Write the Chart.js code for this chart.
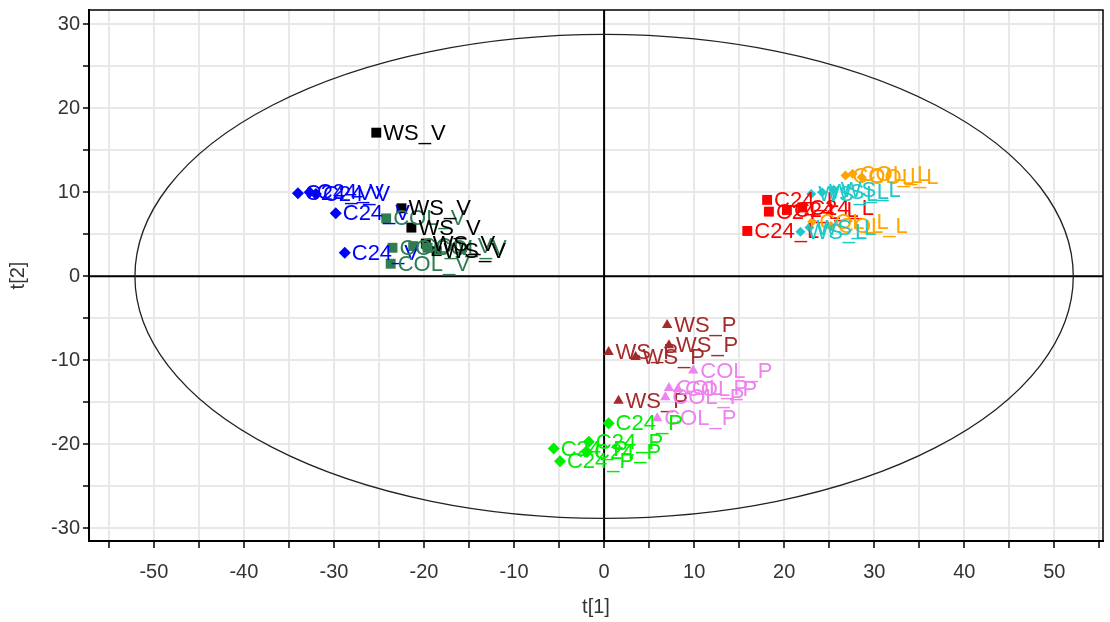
<!DOCTYPE html>
<html>
<head>
<meta charset="utf-8">
<script src="https://cdn.jsdelivr.net/npm/chart.js@4"></script>
<style>
    html, body { margin: 0; padding: 0; background: #fff; }
    #wrap { width: 1110px; height: 622px; }
</style>
</head>
<body>
<div id="wrap"><canvas id="scores" width="1110" height="622"></canvas></div>
<script>
// Score values t[1], t[2]
const c24vX = [-34.0, -32.7, -32.0, -29.8, -28.8];
const c24vY = [9.9, 10.0, 9.8, 7.5, 2.8];
const wsvX = [-25.3, -22.5, -21.4, -19.8, -18.6];
const wsvY = [17.1, 8.1, 5.8, 3.9, 3.0];
const colvX = [-24.2, -23.5, -23.7, -21.2, -19.6];
const colvY = [6.9, 3.4, 1.5, 3.6, 3.4];

const c24lX = [18.1, 18.3, 20.3, 15.9, 22.0];
const c24lY = [9.1, 7.7, 7.9, 5.4, 8.2];
const wslX = [23.0, 24.2, 25.5, 21.8, 22.8];
const wslY = [9.8, 10.0, 10.3, 5.3, 5.8];
const collX = [26.8, 27.6, 28.6, 23.1, 25.2];
const collY = [12.0, 12.2, 11.8, 6.5, 6.0];

const wspX = [7.0, 0.5, 3.5, 7.2, 1.6];
const wspY = [-5.8, -9.0, -9.6, -8.2, -14.8];
const colpX = [9.9, 7.2, 6.8, 5.9, 8.2];
const colpY = [-11.2, -13.3, -14.4, -16.9, -13.4];
const c24pX = [0.5, -5.6, -4.9, -1.7, -1.9];
const c24pY = [-17.5, -20.5, -22.0, -19.7, -20.9];

// Hotelling ellipse half-axes (t[1], t[2])
const ellipseRadii = [52.1, 28.8];

const xRange = [-57.2, 55.4];
const yRange = [-31.5, 31.7];

function pts(xs, ys) {
    return xs.map((x, i) => ({ x: x, y: ys[i] }));
}

function group(label, xs, ys, color, style, radius) {
    return {
        label: label,
        data: pts(xs, ys),
        backgroundColor: color,
        borderColor: color,
        borderWidth: 0,
        pointStyle: style,
        pointRadius: radius,
        pointHoverRadius: radius
    };
}

const datasets = [
    group('C24_V', c24vX, c24vY, '#0000ff', 'rectRot', 6),
    group('COL_V', colvX, colvY, '#2e7d50', 'rect', 7),
    group('WS_V', wsvX, wsvY, '#000000', 'rect', 7),
    group('C24_L', c24lX, c24lY, '#ff0000', 'rect', 7),
    group('COL_L', collX, collY, '#ffa500', 'rectRot', 5),
    group('WS_L', wslX, wslY, '#1ec8c8', 'rectRot', 5),
    group('WS_P', wspX, wspY, '#a52a2a', 'triangle', 6),
    group('COL_P', colpX, colpY, '#ee82ee', 'triangle', 6),
    group('C24_P', c24pX, c24pY, '#00ee00', 'rectRot', 6)
];

// Ellipse, zero lines and frame drawn behind the points
const backdrop = {
    id: 'backdrop',
    beforeDatasetsDraw(chart) {
        const ctx = chart.ctx;
        const xs = chart.scales.x, ys = chart.scales.y;
        const area = chart.chartArea;
        const x0 = xs.getPixelForValue(0), y0 = ys.getPixelForValue(0);
        ctx.save();
        ctx.strokeStyle = '#000';
        ctx.lineWidth = 2;
        ctx.beginPath();
        ctx.moveTo(x0, area.top);
        ctx.lineTo(x0, area.bottom);
        ctx.moveTo(area.left, y0);
        ctx.lineTo(area.right, y0);
        ctx.stroke();

        ctx.lineWidth = 1.3;
        ctx.strokeStyle = '#222';
        const rx = xs.getPixelForValue(ellipseRadii[0]) - x0;
        const ry = y0 - ys.getPixelForValue(ellipseRadii[1]);
        ctx.beginPath();
        ctx.ellipse(x0, y0, rx, ry, 0, 0, Math.PI * 2);
        ctx.stroke();

        ctx.lineWidth = 1.5;
        ctx.strokeStyle = '#000';
        ctx.beginPath();
        ctx.moveTo(area.left, area.top);
        ctx.lineTo(area.right, area.top);
        ctx.lineTo(area.right, area.bottom);
        ctx.stroke();
        ctx.restore();
    }
};

// Sample name written right of each point
const pointLabels = {
    id: 'pointLabels',
    afterDatasetsDraw(chart) {
        const ctx = chart.ctx;
        ctx.save();
        ctx.font = '22px "Liberation Sans", Arial, sans-serif';
        ctx.textAlign = 'left';
        ctx.textBaseline = 'middle';
        chart.data.datasets.forEach((ds, i) => {
            const meta = chart.getDatasetMeta(i);
            ctx.fillStyle = ds.backgroundColor;
            meta.data.forEach(el => {
                ctx.fillText(ds.label, el.x + 7, el.y + 1);
            });
        });
        ctx.restore();
    }
};

const tickFont = { family: '"Liberation Sans", Arial, sans-serif', size: 20 };

new Chart(document.getElementById('scores'), {
    type: 'scatter',
    data: { datasets: datasets },
    options: {
        responsive: false,
        animation: false,
        layout: { padding: { top: 10, right: 2, left: 0, bottom: 0 } },
        plugins: {
            legend: { display: false },
            tooltip: { enabled: false }
        },
        scales: {
            x: {
                type: 'linear',
                min: xRange[0],
                max: xRange[1],
                afterFit(scale) {
                    scale.height = 81;
                    scale.paddingLeft = 0;
                    scale.paddingRight = 0;
                },
                ticks: {
                    stepSize: 5,
                    includeBounds: false,
                    autoSkip: false,
                    maxRotation: 0,
                    color: '#333',
                    font: tickFont,
                    padding: 12,
                    callback: v => (v % 10 === 0 ? v : '')
                },
                grid: {
                    color: '#e8e8e8',
                    lineWidth: 2,
                    tickColor: '#000',
                    tickLength: 7,
                    tickWidth: 1.5
                },
                border: { color: '#000', width: 2 },
                title: {
                    display: true,
                    text: 't[1]',
                    color: '#333',
                    font: tickFont,
                    padding: { top: 0, bottom: 3 }
                }
            },
            y: {
                type: 'linear',
                min: yRange[0],
                max: yRange[1],
                afterFit(scale) {
                    scale.width = 89;
                    scale.paddingTop = 0;
                    scale.paddingBottom = 0;
                },
                ticks: {
                    stepSize: 5,
                    includeBounds: false,
                    autoSkip: false,
                    color: '#333',
                    font: tickFont,
                    padding: 3,
                    callback: v => (v % 10 === 0 ? v : '')
                },
                grid: {
                    color: '#e8e8e8',
                    lineWidth: 2,
                    tickColor: '#000',
                    tickLength: 6,
                    tickWidth: 1.5
                },
                border: { color: '#000', width: 2 },
                title: {
                    display: true,
                    text: 't[2]',
                    color: '#333',
                    font: tickFont,
                    padding: { top: 6, bottom: 0 }
                }
            }
        }
    },
    plugins: [backdrop, pointLabels]
});
</script>
</body>
</html>
